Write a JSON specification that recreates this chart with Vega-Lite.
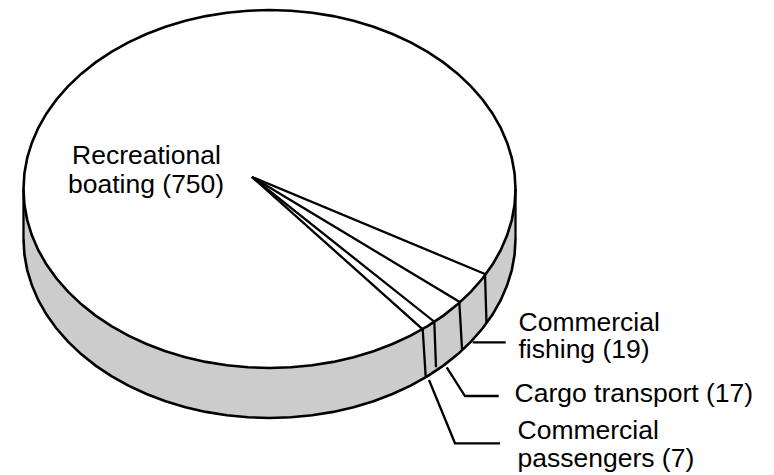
{"$schema":"https://vega.github.io/schema/vega-lite/v6.json","width":774,"height":475,"padding":0,"autosize":{"type":"fit","contains":"padding"},"background":"white","config":{"view":{"stroke":null}},
"datasets":{
"side":[{"x":23.5,"y":189,"y2":239},{"x":24.4,"y":204.6,"y2":254.6},{"x":27.2,"y":220.1,"y2":270.1},{"x":31.9,"y":235.3,"y2":285.3},{"x":38.3,"y":250.2,"y2":300.2},{"x":46.5,"y":264.6,"y2":314.6},{"x":56.5,"y":278.5,"y2":328.5},{"x":68,"y":291.7,"y2":341.7},{"x":81.1,"y":304.1,"y2":354.1},{"x":95.6,"y":315.6,"y2":365.6},{"x":111.4,"y":326.1,"y2":376.1},{"x":128.4,"y":335.6,"y2":385.6},{"x":146.5,"y":344,"y2":394},{"x":165.5,"y":351.2,"y2":401.2},{"x":185.4,"y":357.2,"y2":407.2},{"x":205.8,"y":361.9,"y2":411.9},{"x":226.8,"y":365.3,"y2":415.3},{"x":248.1,"y":367.3,"y2":417.3},{"x":269.5,"y":368,"y2":418},{"x":290.9,"y":367.3,"y2":417.3},{"x":312.2,"y":365.3,"y2":415.3},{"x":333.2,"y":361.9,"y2":411.9},{"x":353.6,"y":357.2,"y2":407.2},{"x":373.5,"y":351.2,"y2":401.2},{"x":392.5,"y":344,"y2":394},{"x":410.6,"y":335.6,"y2":385.6},{"x":427.6,"y":326.1,"y2":376.1},{"x":443.4,"y":315.6,"y2":365.6},{"x":457.9,"y":304.1,"y2":354.1},{"x":471,"y":291.7,"y2":341.7},{"x":482.5,"y":278.5,"y2":328.5},{"x":492.5,"y":264.6,"y2":314.6},{"x":500.7,"y":250.2,"y2":300.2},{"x":507.1,"y":235.3,"y2":285.3},{"x":511.8,"y":220.1,"y2":270.1},{"x":514.6,"y":204.6,"y2":254.6},{"x":515.5,"y":189,"y2":239}],
"upper":[{"x":23.5,"y":189},{"x":24.4,"y":173.4},{"x":27.2,"y":157.9},{"x":31.9,"y":142.7},{"x":38.3,"y":127.8},{"x":46.5,"y":113.4},{"x":56.5,"y":99.5},{"x":68,"y":86.3},{"x":81.1,"y":73.9},{"x":95.6,"y":62.4},{"x":111.4,"y":51.9},{"x":128.4,"y":42.4},{"x":146.5,"y":34},{"x":165.5,"y":26.8},{"x":185.4,"y":20.8},{"x":205.8,"y":16.1},{"x":226.8,"y":12.7},{"x":248.1,"y":10.7},{"x":269.5,"y":10},{"x":290.9,"y":10.7},{"x":312.2,"y":12.7},{"x":333.2,"y":16.1},{"x":353.6,"y":20.8},{"x":373.5,"y":26.8},{"x":392.5,"y":34},{"x":410.6,"y":42.4},{"x":427.6,"y":51.9},{"x":443.4,"y":62.4},{"x":457.9,"y":73.9},{"x":471,"y":86.3},{"x":482.5,"y":99.5},{"x":492.5,"y":113.4},{"x":500.7,"y":127.8},{"x":507.1,"y":142.7},{"x":511.8,"y":157.9},{"x":514.6,"y":173.4},{"x":515.5,"y":189}],
"segments":[
{"s":"edge left","o":1,"x":23.5,"y":189},{"s":"edge left","o":2,"x":23.5,"y":239},
{"s":"edge right","o":1,"x":515.5,"y":189},{"s":"edge right","o":2,"x":515.5,"y":239},
{"s":"radial 1","o":1,"x":252,"y":177},{"s":"radial 1","o":2,"x":485,"y":274},{"s":"radial 1","o":3,"x":486.5,"y":323},
{"s":"radial 2","o":1,"x":252,"y":177},{"s":"radial 2","o":2,"x":459.3,"y":301.7},{"s":"radial 2","o":3,"x":462,"y":349},
{"s":"radial 3","o":1,"x":252,"y":177},{"s":"radial 3","o":2,"x":434.3,"y":321.7},{"s":"radial 3","o":3,"x":436,"y":367.3},
{"s":"radial 4","o":1,"x":252,"y":177},{"s":"radial 4","o":2,"x":422.7,"y":329.3},{"s":"radial 4","o":3,"x":425.7,"y":376.7},
{"s":"leader fishing","o":1,"x":472.7,"y":342.3},{"s":"leader fishing","o":2,"x":505.7,"y":342.3},
{"s":"leader cargo","o":1,"x":446.7,"y":367.3},{"s":"leader cargo","o":2,"x":465,"y":396},{"s":"leader cargo","o":3,"x":498.7,"y":396},
{"s":"leader passengers","o":1,"x":429,"y":380},{"s":"leader passengers","o":2,"x":455,"y":443.3},{"s":"leader passengers","o":3,"x":500,"y":443.3}],
"labels":[
{"t":"Recreational","x":72,"y":164},{"t":"boating (750)","x":68,"y":193},
{"t":"Commercial","x":518.5,"y":331},{"t":"fishing (19)","x":518.5,"y":358},
{"t":"Cargo transport (17)","x":514.5,"y":402},
{"t":"Commercial","x":517.5,"y":439},{"t":"passengers (7)","x":517.5,"y":467}]
},
"encoding":{
"x":{"field":"x","type":"quantitative","scale":{"domain":[0,774],"nice":false,"zero":false},"axis":null},
"y":{"field":"y","type":"quantitative","scale":{"domain":[475,0],"nice":false,"zero":false},"axis":null}
},
"layer":[
{"data":{"name":"side"},"mark":{"type":"area","color":"#cccccc"},"encoding":{"y2":{"field":"y2"}}},
{"data":{"name":"side"},"mark":{"type":"line","color":"black","strokeWidth":2.6},"encoding":{}},
{"data":{"name":"side"},"mark":{"type":"line","color":"black","strokeWidth":2.6},"encoding":{"y":{"field":"y2","type":"quantitative"}}},
{"data":{"name":"upper"},"mark":{"type":"line","color":"black","strokeWidth":2.6},"encoding":{}},
{"data":{"name":"segments"},"mark":{"type":"line","color":"black","strokeWidth":2.3},"encoding":{"detail":{"field":"s"},"order":{"field":"o","type":"quantitative"}}},
{"data":{"name":"labels"},"mark":{"type":"text","font":"Liberation Sans","fontSize":26.5,"align":"left","baseline":"alphabetic","color":"#000000"},"encoding":{"text":{"field":"t"}}}
]}
